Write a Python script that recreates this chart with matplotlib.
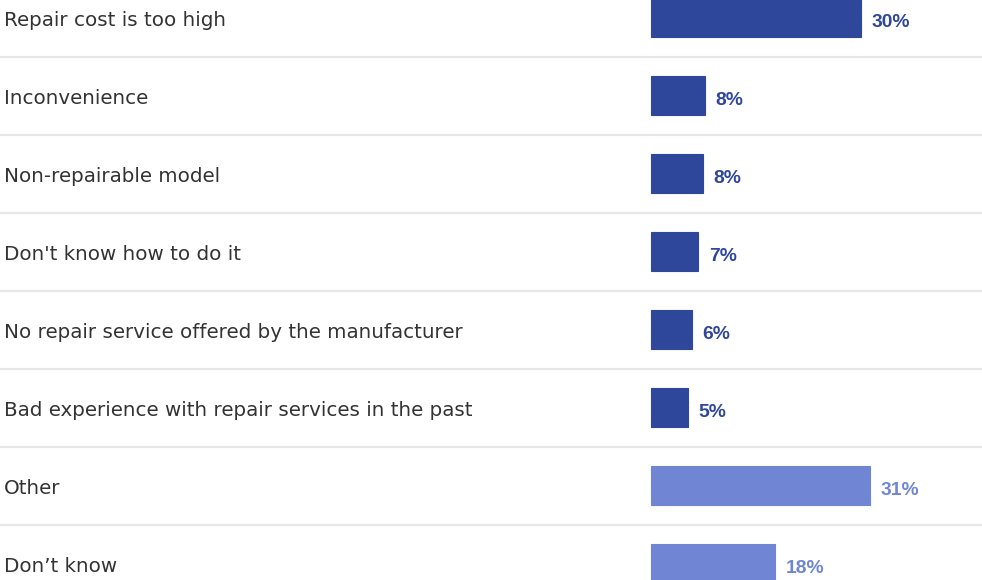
import matplotlib
matplotlib.use("Agg")
import matplotlib.pyplot as plt
from matplotlib.transforms import blended_transform_factory

categories = [
    "Repair cost is too high",
    "Inconvenience",
    "Non-repairable model",
    "Don't know how to do it",
    "No repair service offered by the manufacturer",
    "Bad experience with repair services in the past",
    "Other",
    "Don\u2019t know",
]
values = [29.9, 7.7, 7.4, 6.7, 5.8, 5.2, 31.1, 17.6]
value_labels = ["30%", "8%", "8%", "7%", "6%", "5%", "31%", "18%"]
dark = "#2f479b"
light = "#7086d4"
colors = [dark] * 6 + [light] * 2

W, H = 982, 580
fig = plt.figure(figsize=(W / 100, H / 100), dpi=100)
ax = fig.add_axes([0, 0, 1, 1])
ax.set_axis_off()

px_per_unit = 7.04
x0_px = 651
ax.set_xlim(-x0_px / px_per_unit, (W - x0_px) / px_per_unit)
row_px = 78
first_px = 17.5
ax.set_ylim((H - first_px) / row_px, -first_px / row_px)

pos = list(range(len(categories)))
ax.barh(pos, values, height=0.495, color=colors, edgecolor=colors, linewidth=0.8)

base_off = 8.5 / row_px
trans = blended_transform_factory(ax.transAxes, ax.transData)
for i, (cat, v, lab, c) in enumerate(zip(categories, values, value_labels, colors)):
    ax.text(4 / W, i + base_off, cat, transform=trans, ha="left", va="baseline",
            fontsize=14.35, color="#333333", family="DejaVu Sans")
    ax.text(v + 10.5 / px_per_unit, i + base_off + 0.01, lab, ha="left", va="baseline",
            fontsize=13.9, fontweight="bold", color=c, family="Liberation Sans")

for i in range(len(categories) - 1):
    ax.axhline(i + 0.5, xmin=0, xmax=1, color="#e6e6e6", linewidth=1.5, zorder=0)

fig.savefig("out.png", dpi=100)
